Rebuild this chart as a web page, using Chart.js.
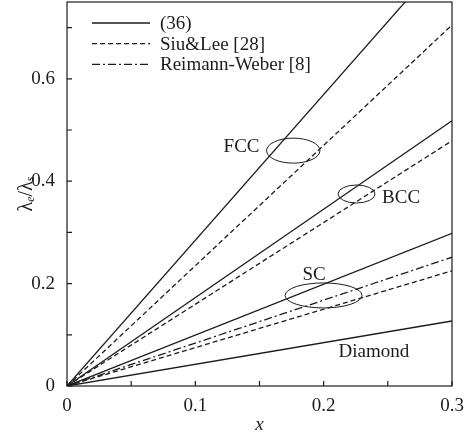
<!DOCTYPE html>
<html>
<head>
<meta charset="utf-8">
<script src="https://cdn.jsdelivr.net/npm/chart.js@4.4.1/dist/chart.umd.min.js"></script>
<style>
  html, body { margin: 0; padding: 0; background: #fff; }
  #wrap { width: 471px; height: 433px; position: relative; }
</style>
</head>
<body>
<div id="wrap"><canvas id="chart"></canvas></div>
<script>
// x range and values at its ends (all curves are straight lines through 0)
const xValues = [0, 0.3];

const fccEq36 = [0, 0.854];
const fccSiuLee = [0, 0.705];
const bccEq36 = [0, 0.518];
const bccSiuLee = [0, 0.479];
const scEq36 = [0, 0.298];
const scReimannWeber = [0, 0.2515];
const scSiuLee = [0, 0.225];
const diamondEq36 = [0, 0.127];

const legendNames = ['(36)', 'Siu&Lee [28]', 'Reimann-Weber [8]'];
const xTickLabels = ['0', '0.1', '0.2', '0.3'];
const yTickLabels = ['0', '0.2', '0.4', '0.6'];

const ink = '#1c1c1c';
const serif = '"Liberation Serif", "Times New Roman", serif';
const dashes = { solid: [], dashed: [5, 3], dashDot: [8, 3, 2, 3] };

// lattice tags and the ellipses that group the curves
const notes = [
    { text: 'FCC', x: 0.136, y: 0.467 },
    { text: 'BCC', x: 0.2603, y: 0.367 },
    { text: 'SC', x: 0.1925, y: 0.217 },
    { text: 'Diamond', x: 0.2392, y: 0.0664 }
];
const rings = [
    { x: 0.1763, y: 0.4597, rx: 0.0208, ry: 0.0244 },
    { x: 0.2256, y: 0.375, rx: 0.0144, ry: 0.0176 },
    { x: 0.1999, y: 0.1769, rx: 0.030, ry: 0.0244 }
];

function series(label, values, style) {
    return {
        label,
        data: xValues.map((x, i) => ({ x, y: values[i] })),
        borderColor: ink,
        borderWidth: 1.3,
        borderDash: dashes[style],
        pointRadius: 0,
        fill: false,
        tension: 0
    };
}

const decorations = {
    id: 'decorations',
    afterDraw(chart) {
        const { ctx, chartArea: a, scales: { x, y } } = chart;
        ctx.save();
        ctx.strokeStyle = ink;
        ctx.fillStyle = ink;
        ctx.lineWidth = 1.2;

        // frame
        ctx.strokeRect(a.left, a.top, a.width, a.height);

        // inward tick marks
        ctx.beginPath();
        x.ticks.forEach(t => {
            const px = x.getPixelForValue(t.value);
            ctx.moveTo(px, a.bottom);
            ctx.lineTo(px, a.bottom - 5);
        });
        y.ticks.forEach(t => {
            const py = y.getPixelForValue(t.value);
            ctx.moveTo(a.left, py);
            ctx.lineTo(a.left + 5, py);
        });
        ctx.stroke();

        // ellipses
        ctx.lineWidth = 1;
        rings.forEach(r => {
            const cx = x.getPixelForValue(r.x);
            const cy = y.getPixelForValue(r.y);
            const rx = x.getPixelForValue(r.x + r.rx) - cx;
            const ry = cy - y.getPixelForValue(r.y + r.ry);
            ctx.beginPath();
            ctx.ellipse(cx, cy, rx, ry, 0, 0, Math.PI * 2);
            ctx.stroke();
        });

        // lattice labels
        ctx.font = '19px ' + serif;
        ctx.textAlign = 'center';
        ctx.textBaseline = 'middle';
        notes.forEach(n => {
            ctx.fillText(n.text, x.getPixelForValue(n.x), y.getPixelForValue(n.y));
        });

        // legend
        const styles = ['solid', 'dashed', 'dashDot'];
        ctx.textAlign = 'left';
        legendNames.forEach((name, i) => {
            const ly = a.top + 21 + i * 20.7;
            ctx.beginPath();
            ctx.lineWidth = 1.3;
            ctx.setLineDash(dashes[styles[i]]);
            ctx.moveTo(a.left + 25, ly);
            ctx.lineTo(a.left + 83, ly);
            ctx.stroke();
            ctx.setLineDash([]);
            ctx.fillText(name, a.left + 93, ly + 1);
        });

        // axis titles
        ctx.font = 'italic 19px ' + serif;
        ctx.textAlign = 'center';
        ctx.textBaseline = 'alphabetic';
        ctx.fillText('x', (a.left + a.right) / 2, 430);

        ctx.translate(27, (a.top + a.bottom) / 2);
        ctx.rotate(-Math.PI / 2);
        const parts = [
            { t: '\u03bb', f: '20px ' + serif, dy: 0 },
            { t: 'e', f: 'italic 12px ' + serif, dy: 4 },
            { t: '/', f: '20px ' + serif, dy: 0 },
            { t: '\u03bb', f: '20px ' + serif, dy: 0 },
            { t: 's', f: 'italic 12px ' + serif, dy: 4 }
        ];
        let total = 0;
        parts.forEach(p => { ctx.font = p.f; p.w = ctx.measureText(p.t).width; total += p.w; });
        let cx = -total / 2;
        ctx.textAlign = 'left';
        ctx.textBaseline = 'middle';
        parts.forEach(p => {
            ctx.font = p.f;
            ctx.fillText(p.t, cx, p.dy);
            cx += p.w;
        });
        ctx.restore();
    }
};

new Chart(document.getElementById('chart'), {
    type: 'line',
    data: {
        datasets: [
            series('FCC (36)', fccEq36, 'solid'),
            series('FCC Siu&Lee [28]', fccSiuLee, 'dashed'),
            series('BCC (36)', bccEq36, 'solid'),
            series('BCC Siu&Lee [28]', bccSiuLee, 'dashed'),
            series('SC (36)', scEq36, 'solid'),
            series('SC Reimann-Weber [8]', scReimannWeber, 'dashDot'),
            series('SC Siu&Lee [28]', scSiuLee, 'dashed'),
            series('Diamond (36)', diamondEq36, 'solid')
        ]
    },
    options: {
        responsive: true,
        maintainAspectRatio: false,
        animation: false,
        layout: { padding: { top: 2, right: 19, left: 0, bottom: 0 } },
        plugins: { legend: { display: false }, tooltip: { enabled: false } },
        scales: {
            x: {
                type: 'linear',
                min: 0,
                max: 0.3,
                grid: { display: false },
                border: { display: false },
                afterFit(scale) {
                    scale.height = 47;
                    scale.paddingLeft = 0;
                    scale.paddingRight = 0;
                },
                ticks: {
                    stepSize: 0.05,
                    padding: 1,
                    autoSkip: false,
                    maxRotation: 0,
                    color: ink,
                    font: { family: serif, size: 19 },
                    callback: v => {
                        const k = Math.round(v * 20);
                        return k % 2 === 0 ? xTickLabels[k / 2] : '';
                    }
                }
            },
            y: {
                min: 0,
                max: 0.75,
                grid: { display: false },
                border: { display: false },
                afterFit(scale) {
                    scale.width = 67;
                    scale.paddingTop = 0;
                    scale.paddingBottom = 0;
                },
                ticks: {
                    stepSize: 0.1,
                    padding: 4,
                    autoSkip: false,
                    color: ink,
                    font: { family: serif, size: 19 },
                    callback: v => {
                        const k = Math.round(v * 10);
                        return k % 2 === 0 ? yTickLabels[k / 2] : '';
                    }
                }
            }
        }
    },
    plugins: [decorations]
});
</script>
</body>
</html>
